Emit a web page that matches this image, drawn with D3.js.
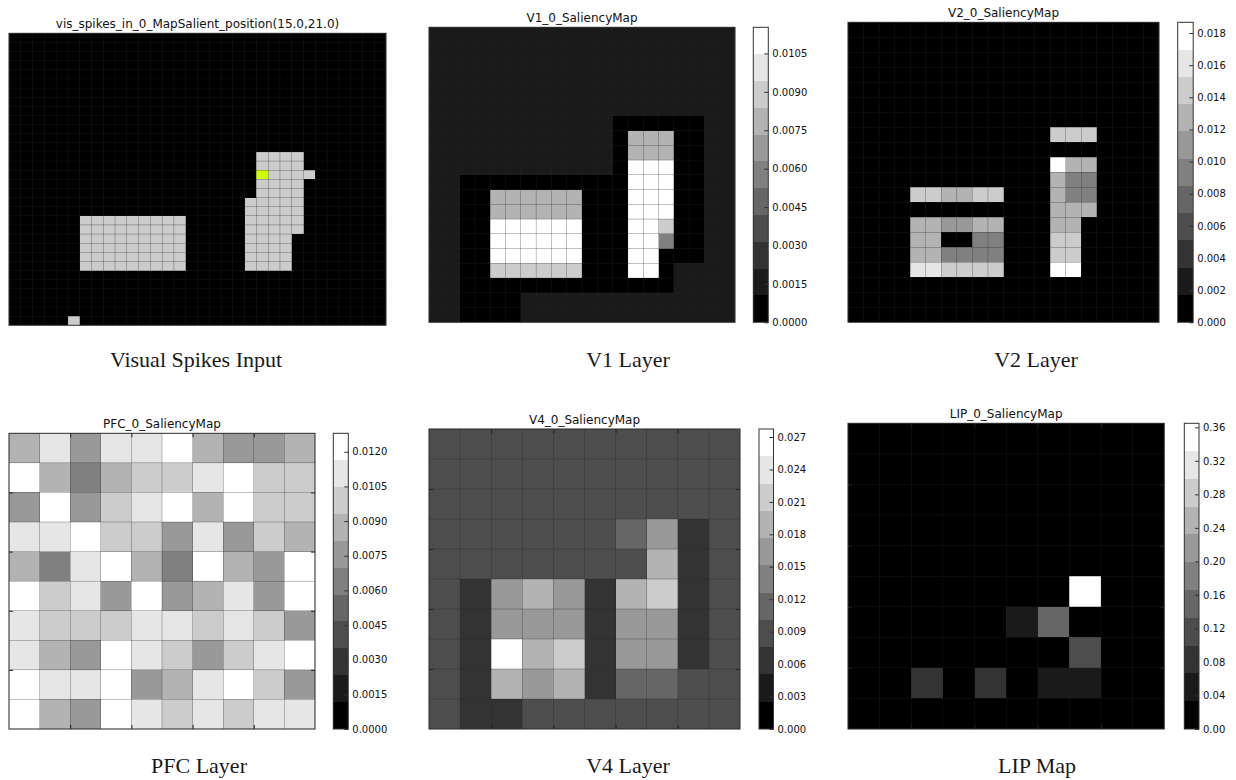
<!DOCTYPE html>
<html>
<head>
<meta charset="utf-8">
<script src="https://cdn.jsdelivr.net/npm/d3@7"></script>
<style>
  body { margin: 0; background: #fff; }
  svg { display: block; }
</style>
</head>
<body>
<div class="figure"></div>
<script>
var width = 1236;
var height = 780;

// gray colormap cut in 11 levels
var grays = ["#000000", "#1a1a1a", "#333333", "#4d4d4d", "#666666", "#808080",
             "#999999", "#b3b3b3", "#cccccc", "#e6e6e6", "#ffffff"];

// visual spikes input, 32 x 32, 1 = spike
var visSpikes = [
  "00000000000000000000000000000000",
  "00000000000000000000000000000000",
  "00000000000000000000000000000000",
  "00000000000000000000000000000000",
  "00000000000000000000000000000000",
  "00000000000000000000000000000000",
  "00000000000000000000000000000000",
  "00000000000000000000000000000000",
  "00000000000000000000000000000000",
  "00000000000000000000000000000000",
  "00000000000000000000000000000000",
  "00000000000000000000000000000000",
  "00000000000000000000000000000000",
  "00000000000000000000011110000000",
  "00000000000000000000011110000000",
  "00000000000000000000011111000000",
  "00000000000000000000011110000000",
  "00000000000000000000011110000000",
  "00000000000000000000111110000000",
  "00000000000000000000111110000000",
  "00000011111111100000111110000000",
  "00000011111111100000111110000000",
  "00000011111111100000111100000000",
  "00000011111111100000111100000000",
  "00000011111111100000111100000000",
  "00000011111111100000111100000000",
  "00000000000000000000000000000000",
  "00000000000000000000000000000000",
  "00000000000000000000000000000000",
  "00000000000000000000000000000000",
  "00000000000000000000000000000000",
  "00000100000000000000000000000000"
];
var salientPosition = [15, 21];

var v1Values = [
  [.0016,.0016,.0016,.0016,.0016,.0016,.0016,.0016,.0016,.0016,.0016,.0016,.0016,.0016,.0016,.0016,.0016,.0016,.0016,.0016],
  [.0016,.0016,.0016,.0016,.0016,.0016,.0016,.0016,.0016,.0016,.0016,.0016,.0016,.0016,.0016,.0016,.0016,.0016,.0016,.0016],
  [.0016,.0016,.0016,.0016,.0016,.0016,.0016,.0016,.0016,.0016,.0016,.0016,.0016,.0016,.0016,.0016,.0016,.0016,.0016,.0016],
  [.0016,.0016,.0016,.0016,.0016,.0016,.0016,.0016,.0016,.0016,.0016,.0016,.0016,.0016,.0016,.0016,.0016,.0016,.0016,.0016],
  [.0016,.0016,.0016,.0016,.0016,.0016,.0016,.0016,.0016,.0016,.0016,.0016,.0016,.0016,.0016,.0016,.0016,.0016,.0016,.0016],
  [.0016,.0016,.0016,.0016,.0016,.0016,.0016,.0016,.0016,.0016,.0016,.0016,.0016,.0016,.0016,.0016,.0016,.0016,.0016,.0016],
  [.0016,.0016,.0016,.0016,.0016,.0016,.0016,.0016,.0016,.0016,.0016,.0016,0,0,0,0,0,0,.0016,.0016],
  [.0016,.0016,.0016,.0016,.0016,.0016,.0016,.0016,.0016,.0016,.0016,.0016,0,.0079,.0079,.0079,0,0,.0016,.0016],
  [.0016,.0016,.0016,.0016,.0016,.0016,.0016,.0016,.0016,.0016,.0016,.0016,0,.0079,.0079,.0079,0,0,.0016,.0016],
  [.0016,.0016,.0016,.0016,.0016,.0016,.0016,.0016,.0016,.0016,.0016,.0016,0,.011,.011,.011,0,0,.0016,.0016],
  [.0016,.0016,0,0,0,0,0,0,0,0,0,0,0,.011,.011,.011,0,0,.0016,.0016],
  [.0016,.0016,0,0,.0079,.0079,.0079,.0079,.0079,.0079,0,0,0,.011,.011,.011,0,0,.0016,.0016],
  [.0016,.0016,0,0,.0079,.0079,.0079,.0079,.0079,.0079,0,0,0,.011,.011,.011,0,0,.0016,.0016],
  [.0016,.0016,0,0,.011,.011,.011,.011,.011,.011,0,0,0,.011,.011,.0089,0,0,.0016,.0016],
  [.0016,.0016,0,0,.011,.011,.011,.011,.011,.011,0,0,0,.011,.011,.0058,0,0,.0016,.0016],
  [.0016,.0016,0,0,.011,.011,.011,.011,.011,.011,0,0,0,.011,.011,0,0,0,.0016,.0016],
  [.0016,.0016,0,0,.0089,.0089,.0089,.0089,.0089,.0089,0,0,0,.011,.011,0,.0016,.0016,.0016,.0016],
  [.0016,.0016,0,0,0,0,0,0,0,0,0,0,0,0,0,0,.0016,.0016,.0016,.0016],
  [.0016,.0016,0,0,0,0,.0016,.0016,.0016,.0016,.0016,.0016,.0016,.0016,.0016,.0016,.0016,.0016,.0016,.0016],
  [.0016,.0016,0,0,0,0,.0016,.0016,.0016,.0016,.0016,.0016,.0016,.0016,.0016,.0016,.0016,.0016,.0016,.0016]
];
var v1Ticks = [0, .0015, .003, .0045, .006, .0075, .009, .0105];
var v1Max = .01152;

var v2Values = [
  [0,0,0,0,0,0,0,0,0,0,0,0,0,0,0,0,0,0,0,0],
  [0,0,0,0,0,0,0,0,0,0,0,0,0,0,0,0,0,0,0,0],
  [0,0,0,0,0,0,0,0,0,0,0,0,0,0,0,0,0,0,0,0],
  [0,0,0,0,0,0,0,0,0,0,0,0,0,0,0,0,0,0,0,0],
  [0,0,0,0,0,0,0,0,0,0,0,0,0,0,0,0,0,0,0,0],
  [0,0,0,0,0,0,0,0,0,0,0,0,0,0,0,0,0,0,0,0],
  [0,0,0,0,0,0,0,0,0,0,0,0,0,0,0,0,0,0,0,0],
  [0,0,0,0,0,0,0,0,0,0,0,0,0,.0144,.0144,.0144,0,0,0,0],
  [0,0,0,0,0,0,0,0,0,0,0,0,0,0,0,0,0,0,0,0],
  [0,0,0,0,0,0,0,0,0,0,0,0,0,.018,.0127,.0127,0,0,0,0],
  [0,0,0,0,0,0,0,0,0,0,0,0,0,.0127,.0093,.0093,0,0,0,0],
  [0,0,0,0,.0144,.0144,.0127,.0127,.0144,.0144,0,0,0,.0127,.0093,.0093,0,0,0,0],
  [0,0,0,0,0,0,0,0,0,0,0,0,0,.0127,.0127,.0127,0,0,0,0],
  [0,0,0,0,.0127,.0127,.011,.011,.0127,.0127,0,0,0,.0127,.0127,0,0,0,0,0],
  [0,0,0,0,.0127,.0127,0,0,.0093,.0093,0,0,0,.0144,.0144,0,0,0,0,0],
  [0,0,0,0,.0127,.0127,.0093,.0093,.0093,.0093,0,0,0,.0144,.0144,0,0,0,0,0],
  [0,0,0,0,.0161,.0161,.0144,.0144,.0144,.0144,0,0,0,.018,.018,0,0,0,0,0],
  [0,0,0,0,0,0,0,0,0,0,0,0,0,0,0,0,0,0,0,0],
  [0,0,0,0,0,0,0,0,0,0,0,0,0,0,0,0,0,0,0,0],
  [0,0,0,0,0,0,0,0,0,0,0,0,0,0,0,0,0,0,0,0]
];
var v2Ticks = [0, .002, .004, .006, .008, .01, .012, .014, .016, .018];
var v2Max = .01867;

var pfcValues = [
  [.0087,.0111,.0076,.0111,.0111,.0124,.0087,.0076,.0076,.0087],
  [.0124,.0087,.0064,.0087,.0099,.0099,.0111,.0124,.0099,.0099],
  [.0076,.0124,.0076,.0099,.0111,.0124,.0087,.0124,.0099,.0099],
  [.0111,.0111,.0124,.0099,.0099,.0076,.0111,.0076,.0099,.0087],
  [.0087,.0064,.0111,.0124,.0087,.0064,.0124,.0087,.0076,.0124],
  [.0124,.0099,.0111,.0076,.0124,.0076,.0087,.0111,.0076,.0124],
  [.0111,.0099,.0099,.0099,.0111,.0111,.0099,.0111,.0099,.0076],
  [.0111,.0087,.0076,.0124,.0111,.0099,.0076,.0099,.0111,.0124],
  [.0124,.0111,.0111,.0124,.0076,.0087,.0111,.0124,.0099,.0076],
  [.0124,.0087,.0076,.0124,.0111,.0099,.0111,.0099,.0111,.0111]
];
var pfcTicks = [0, .0015, .003, .0045, .006, .0075, .009, .0105, .012];
var pfcMax = .0128;

var v4Values = [
  [.0088,.0088,.0088,.0088,.0088,.0088,.0088,.0088,.0088,.0088],
  [.0088,.0088,.0088,.0088,.0088,.0088,.0088,.0088,.0088,.0088],
  [.0088,.0088,.0088,.0088,.0088,.0088,.0088,.0088,.0088,.0088],
  [.0088,.0088,.0088,.0088,.0088,.0088,.0114,.0164,.0063,.0088],
  [.0088,.0088,.0088,.0088,.0088,.0088,.0088,.0189,.0063,.0088],
  [.0088,.0063,.0164,.0189,.0164,.0063,.0189,.0214,.0063,.0088],
  [.0088,.0063,.0164,.0164,.0164,.0063,.0164,.0164,.0063,.0088],
  [.0088,.0063,.0265,.0189,.0214,.0063,.0164,.0164,.0063,.0088],
  [.0088,.0063,.0189,.0164,.0189,.0063,.0114,.0114,.0088,.0088],
  [.0088,.0063,.0063,.0088,.0088,.0088,.0088,.0088,.0088,.0088]
];
var v4Ticks = [0, .003, .006, .009, .012, .015, .018, .021, .024, .027];
var v4Max = .02774;

var lipValues = [
  [0,0,0,0,0,0,0,0,0,0],
  [0,0,0,0,0,0,0,0,0,0],
  [0,0,0,0,0,0,0,0,0,0],
  [0,0,0,0,0,0,0,0,0,0],
  [0,0,0,0,0,0,0,0,0,0],
  [0,0,0,0,0,0,0,.36,0,0],
  [0,0,0,0,0,.05,.149,0,0,0],
  [0,0,0,0,0,0,0,.116,0,0],
  [0,0,.083,0,.083,0,.05,.05,0,0],
  [0,0,0,0,0,0,0,0,0,0]
];
var lipTicks = [0, .04, .08, .12, .16, .2, .24, .28, .32, .36];
var lipMax = .3648;

var svg = d3.select(".figure")
  .append("svg")
  .attr("width", width)
  .attr("height", height);

var sansFont = "'DejaVu Sans', sans-serif";
var serifFont = "'Liberation Serif', 'DejaVu Serif', serif";

// draws the cells + grid + frame of one map
function drawGrid(cells, nRows, nCols, box, fillFn, edgeTicks) {
  var x = d3.scaleLinear().domain([0, nCols]).range([box[0], box[2]]);
  var y = d3.scaleLinear().domain([0, nRows]).range([box[1], box[3]]);
  var g = svg.append("g");

  g.selectAll("rect.cell")
    .data(cells)
    .enter()
    .append("rect")
    .attr("class", "cell")
    .attr("x", function (d) { return x(d.c); })
    .attr("y", function (d) { return y(d.r); })
    .attr("width", function (d) { return x(d.c + 1) - x(d.c); })
    .attr("height", function (d) { return y(d.r + 1) - y(d.r); })
    .attr("shape-rendering", "crispEdges")
    .style("fill", fillFn);

  // thin cell edges, drawn over each cell so they read dark on light
  // cells and only faintly on black
  g.selectAll("rect.edge")
    .data(cells)
    .enter()
    .append("rect")
    .attr("class", "edge")
    .attr("x", function (d) { return x(d.c); })
    .attr("y", function (d) { return y(d.r); })
    .attr("width", function (d) { return x(d.c + 1) - x(d.c); })
    .attr("height", function (d) { return y(d.r + 1) - y(d.r); })
    .attr("fill", "none")
    .attr("stroke", "#2a2a2a")
    .attr("stroke-opacity", 0.45)
    .attr("stroke-width", 0.35);

  if (edgeTicks) {
    [
      [d3.axisLeft(y), "translate(" + box[0] + ",0)"],
      [d3.axisRight(y), "translate(" + box[2] + ",0)"],
      [d3.axisTop(x), "translate(0," + box[1] + ")"],
      [d3.axisBottom(x), "translate(0," + box[3] + ")"]
    ].forEach(function (a) {
      var ax = g.append("g")
        .attr("transform", a[1])
        .call(a[0].tickValues(edgeTicks).tickSize(-4).tickFormat(""));
      ax.select(".domain").remove();
      ax.selectAll("line").attr("stroke", "#222");
    });
  }

  g.append("rect")
    .attr("x", box[0]).attr("y", box[1])
    .attr("width", box[2] - box[0]).attr("height", box[3] - box[1])
    .attr("fill", "none")
    .attr("stroke", "#333")
    .attr("stroke-width", 1);
}

function title(text, box) {
  svg.append("text")
    .attr("x", (box[0] + box[2]) / 2)
    .attr("y", box[1] - 5)
    .attr("text-anchor", "middle")
    .style("font-family", sansFont)
    .style("font-size", "12px")
    .style("fill", "#111")
    .text(text);
}

function caption(text, cx, by) {
  svg.append("text")
    .attr("x", cx)
    .attr("y", by)
    .attr("text-anchor", "middle")
    .style("font-family", serifFont)
    .style("font-size", "22px")
    .style("fill", "#1a1a1a")
    .text(text);
}

// ---------- visual spikes input ----------
var visBox = [9, 33.3, 386, 325.3];
var visCells = [];
visSpikes.forEach(function (row, r) {
  row.split("").forEach(function (ch, c) {
    var code = +ch;
    if (r === salientPosition[0] && c === salientPosition[1]) code = 2;
    visCells.push({ r: r, c: c, v: code });
  });
});
var visColour = d3.scaleOrdinal().domain([0, 1, 2]).range(["#000000", "#cccccc", "#ccff00"]);
drawGrid(visCells, visSpikes.length, visSpikes[0].length, visBox,
  function (d) { return visColour(d.v); }, null);
title("vis_spikes_in_0_MapSalient_position(" + salientPosition[0].toFixed(1) + "," +
  salientPosition[1].toFixed(1) + ")", visBox);
caption("Visual Spikes Input", 196, 366.7);

// ---------- saliency maps ----------
var maps = [
  { name: "V1_0_SaliencyMap", label: "V1 Layer", values: v1Values, ticks: v1Ticks, vmax: v1Max,
    fmt: ".4f", box: [429, 27.3, 735, 322.3], cbar: [753.3, 15], cap: [628, 366.7], edge: null },
  { name: "V2_0_SaliencyMap", label: "V2 Layer", values: v2Values, ticks: v2Ticks, vmax: v2Max,
    fmt: ".3f", box: [848, 22.3, 1159, 322.3], cbar: [1177.7, 15.5], cap: [1036, 366.7], edge: null },
  { name: "PFC_0_SaliencyMap", label: "PFC Layer", values: pfcValues, ticks: pfcTicks, vmax: pfcMax,
    fmt: ".4f", box: [9, 433.3, 315, 729], cbar: [333.3, 15], cap: [199, 773], edge: [2, 4, 6, 8] },
  { name: "V4_0_SaliencyMap", label: "V4 Layer", values: v4Values, ticks: v4Ticks, vmax: v4Max,
    fmt: ".3f", box: [429, 429, 740, 729], cbar: [759, 14.5], cap: [628, 773], edge: [2, 4, 6, 8] },
  { name: "LIP_0_SaliencyMap", label: "LIP Map", values: lipValues, ticks: lipTicks, vmax: lipMax,
    fmt: ".2f", box: [848, 423.3, 1164.3, 729], cbar: [1184.3, 14.7], cap: [1037, 773], edge: [2, 4, 6, 8] }
];

maps.forEach(function (m) {
  var colour = d3.scaleQuantize().domain([0, m.vmax]).range(grays);
  var cells = [];
  m.values.forEach(function (row, r) {
    row.forEach(function (v, c) { cells.push({ r: r, c: c, v: v }); });
  });
  drawGrid(cells, m.values.length, m.values[0].length, m.box,
    function (d) { return colour(d.v); }, m.edge);
  title(m.name, m.box);
  caption(m.label, m.cap[0], m.cap[1]);

  // colorbar
  var cx = m.cbar[0], cw = m.cbar[1];
  var cy = d3.scaleLinear().domain([0, m.vmax]).range([m.box[3], m.box[1]]);
  var cb = svg.append("g");
  cb.selectAll("rect.band")
    .data(grays)
    .enter()
    .append("rect")
    .attr("class", "band")
    .attr("x", cx)
    .attr("width", cw)
    .attr("y", function (c) { return cy(colour.invertExtent(c)[1]); })
    .attr("height", function (c) {
      var e = colour.invertExtent(c);
      return cy(e[0]) - cy(e[1]);
    })
    .attr("shape-rendering", "crispEdges")
    .style("fill", function (c) { return c; });

  var axis = cb.append("g")
    .attr("transform", "translate(" + (cx + cw) + ",0)")
    .call(d3.axisRight(cy).tickValues(m.ticks).tickSize(-4).tickPadding(4)
      .tickFormat(d3.format(m.fmt)));
  axis.select(".domain").remove();
  axis.selectAll("line").attr("stroke", "#333");
  axis.selectAll("text")
    .style("font-family", sansFont)
    .style("font-size", "10px")
    .style("fill", "#111");

  cb.append("rect")
    .attr("x", cx).attr("y", m.box[1])
    .attr("width", cw).attr("height", m.box[3] - m.box[1])
    .attr("fill", "none")
    .attr("stroke", "#333")
    .attr("stroke-width", 1);
});
</script>
</body>
</html>
